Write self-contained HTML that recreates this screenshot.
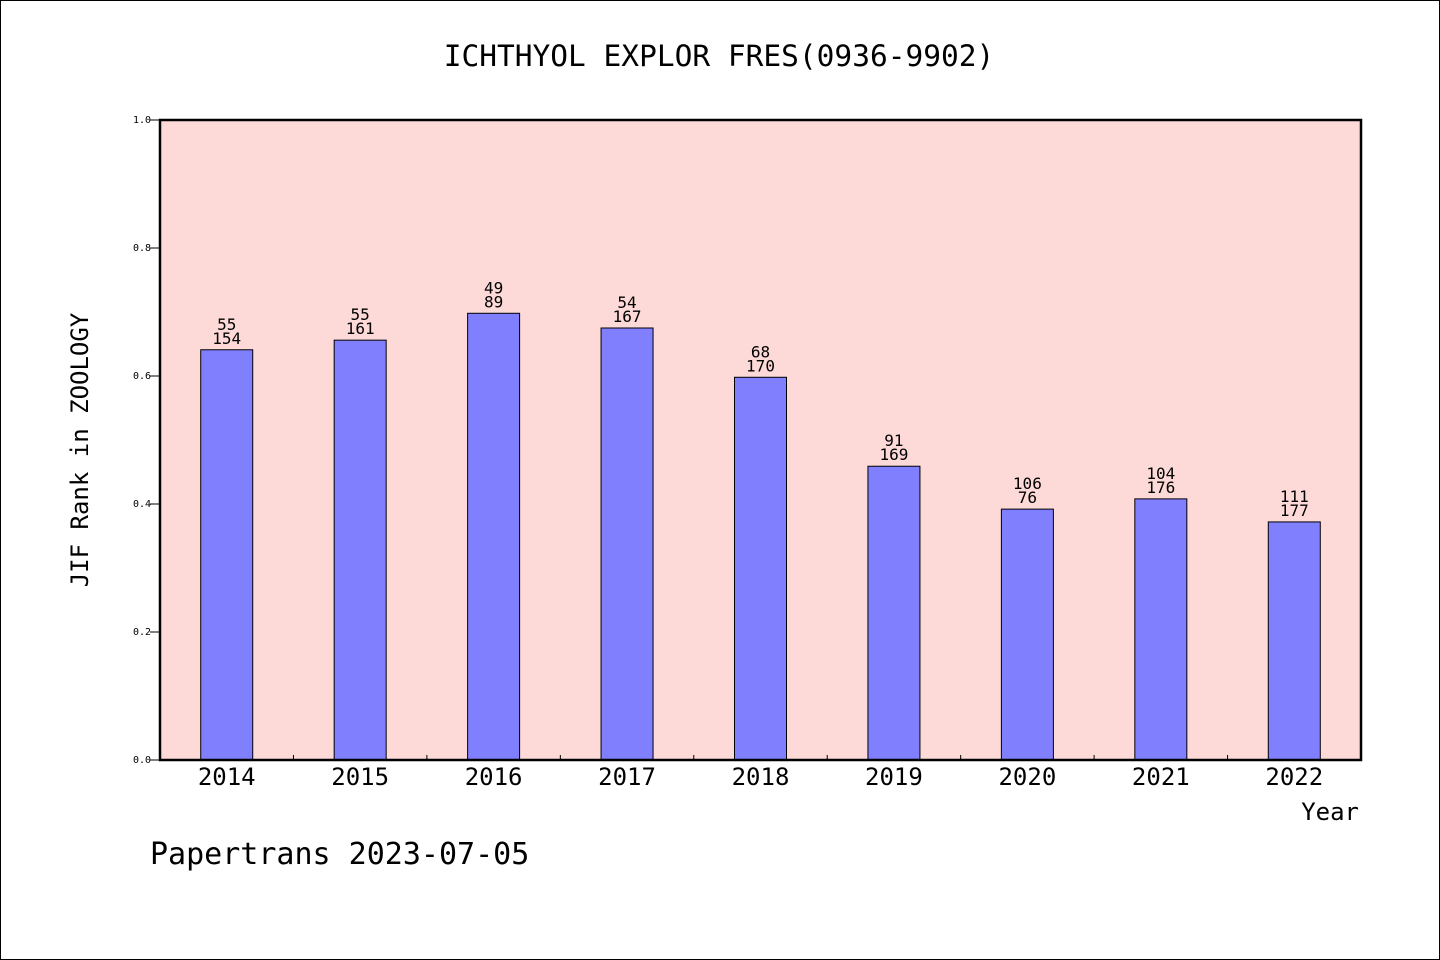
<!DOCTYPE html>
<html><head><meta charset="utf-8"><style>
body{margin:0;background:#fff}
svg{display:block}
text{font-family:"DejaVu Sans Mono","Liberation Mono",monospace;fill:#000}
</style></head><body>
<svg width="1440" height="960">
<rect x="0.5" y="0.5" width="1439" height="959" fill="#fff" stroke="#000"/>
<text x="719" y="66" text-anchor="middle" font-size="29.5">ICHTHYOL EXPLOR FRES(0936-9902)</text>
<rect x="160" y="120" width="1201" height="640" fill="#fddad8"/>
<g id="bars"></g>
<rect x="160" y="120" width="1201" height="640" fill="none" stroke="#000" stroke-width="2.5"/>
<text transform="translate(88,450) rotate(-90)" text-anchor="middle" font-size="24">JIF Rank in ZOOLOGY</text>
<text x="1359" y="820" text-anchor="end" font-size="24">Year</text>
<text x="150" y="864" font-size="30">Papertrans 2023-07-05</text>
</svg>
<script>
const years=['2014','2015','2016','2017','2018','2019','2020','2021','2022'];
const values=[0.641,0.656,0.698,0.675,0.598,0.459,0.392,0.408,0.372];
const ranks=['55','55','49','54','68','91','106','104','111'];
const totals=['154','161','89','167','170','169','76','176','177'];
const yTicks=[0,0.2,0.4,0.6,0.8,1.0];
const X0=160,W=1201,Y0=760,H=640;
const band=W/years.length;
const xs=i=>X0+band*(i+0.5);
const ys=v=>Y0-v*H;
const svg=document.querySelector('svg');
const g=document.getElementById('bars');
const NS='http://www.w3.org/2000/svg';
function mk(t,a,p){const e=document.createElementNS(NS,t);for(const k in a)e.setAttribute(k,a[k]);(p||svg).appendChild(e);return e;}
years.forEach((y,i)=>{
  const cx=xs(i),bw=52;
  const r=mk('rect',{x:cx-bw/2,y:ys(values[i]),width:bw,height:values[i]*H,fill:'#8080ff',stroke:'#000','stroke-width':1},g);
  
  
  const t1=mk('text',{x:cx,y:ys(values[i])-20,'text-anchor':'middle','font-size':16},g);
  t1.textContent=ranks[i];
  
  
  const t2=mk('text',{x:cx,y:ys(values[i])-6,'text-anchor':'middle','font-size':16},g);
  t2.textContent=totals[i];
  
  
  const xl=mk('text',{x:cx,y:785,'text-anchor':'middle','font-size':24});
  xl.textContent=y;
  
  
  if(i>0){
    const tk=mk('line',{x1:X0+band*i,x2:X0+band*i,y1:760,y2:755,stroke:'#000'});
    
    
  }
});
yTicks.forEach(v=>{
  const y=ys(v);
  const l=mk('line',{x1:150,x2:160,y1:y,y2:y,stroke:'#000'});
  
  
  const t=mk('text',{x:151,y:y+3,'text-anchor':'end','font-size':10});
  t.textContent=v.toFixed(1);
  
  
});
</script>
</body></html>
